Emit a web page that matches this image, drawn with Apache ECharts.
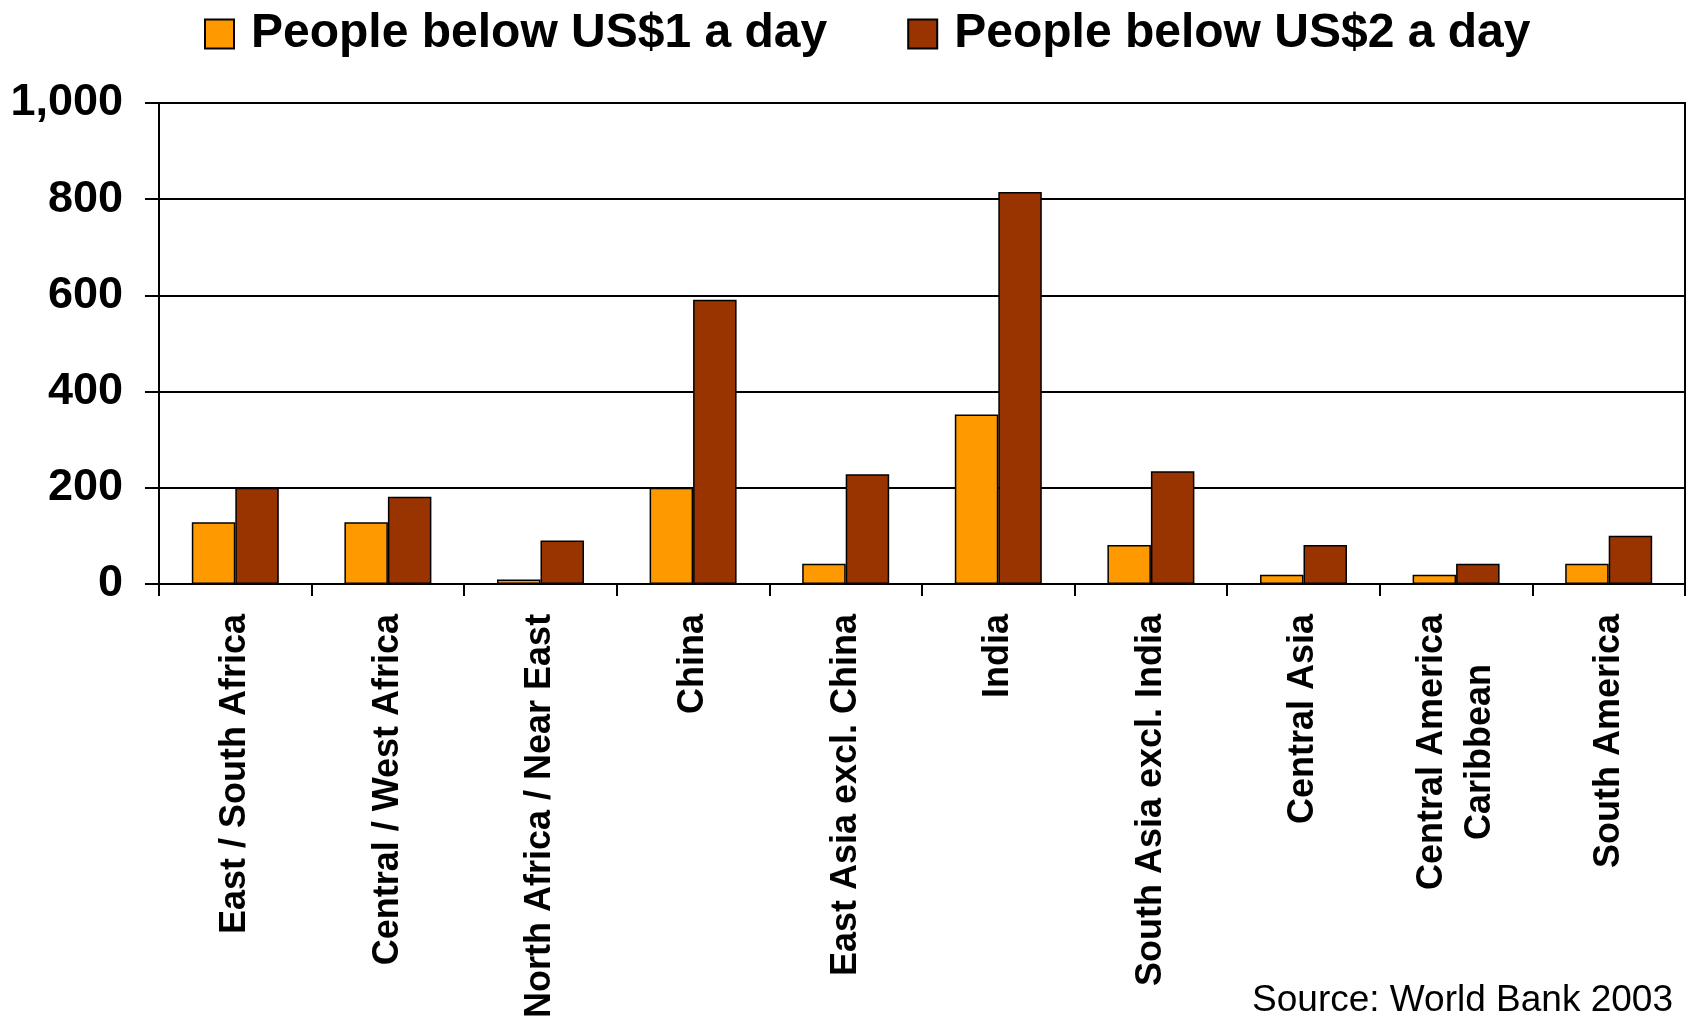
<!DOCTYPE html>
<html>
<head>
<meta charset="utf-8">
<title>People below poverty lines by region</title>
<script src="https://cdn.jsdelivr.net/npm/echarts@6/dist/echarts.min.js"></script>
<style>
  html, body { margin: 0; padding: 0; background: #fff; }
  #chart { width: 1688px; height: 1021px; }
</style>
</head>
<body>
<div id="chart"></div>
<script>
// Regions (x-axis categories)
const regions = [
  'East / South Africa',
  'Central / West Africa',
  'North Africa / Near East',
  'China',
  'East Asia excl. China',
  'India',
  'South Asia excl. India',
  'Central Asia',
  'Central America\nCaribbean',
  'South America'
];

// Millions of people living on less than US$1 / US$2 a day
const belowOneDollar = [128, 128, 9, 200, 42, 352, 81, 19, 19, 42];
const belowTwoDollars = [200, 181, 90, 591, 228, 815, 234, 81, 42, 100];

const seriesNames = ['People below US$1 a day', 'People below US$2 a day'];

// Value axis ticks
const yMin = 0;
const yMax = 1000;
const yStep = 200;

const FONT = '"Liberation Sans", Arial, Helvetica, sans-serif';

const chart = echarts.init(document.getElementById('chart'), null, { renderer: 'canvas' });

chart.setOption({
  backgroundColor: '#ffffff',
  animation: false,
  legend: {
    top: 10,
    left: 204,
    padding: 0,
    itemWidth: 29,
    itemHeight: 29,
    itemGap: 80,
    icon: 'rect',
    data: seriesNames,
    textStyle: {
      fontFamily: FONT,
      fontWeight: 'bold',
      fontSize: 48,
      color: '#000',
      padding: [0, 0, 0, 12]
    }
  },
  grid: {
    left: 159,
    right: 3,
    top: 103,
    bottom: 433,
    show: true,
    backgroundColor: '#ffffff',
    borderColor: '#000',
    borderWidth: 2
  },
  xAxis: {
    type: 'category',
    data: regions,
    boundaryGap: true,
    axisLine: { show: true, lineStyle: { color: '#000', width: 2 } },
    axisTick: { show: true, interval: 0, length: 12, lineStyle: { color: '#000', width: 2 } },
    axisLabel: {
      interval: 0,
      rotate: 90,
      margin: 30,
      color: '#000',
      formatter: function (v) {
        return v.split('\n').map(function (s) { return '{c|' + s + '}'; }).join('\n');
      },
      rich: {
        c: {
          fontFamily: FONT,
          fontWeight: 'bold',
          fontSize: 36,
          lineHeight: 48,
          color: '#000',
          align: 'center'
        }
      }
    },
    splitLine: { show: false }
  },
  yAxis: {
    type: 'value',
    min: yMin,
    max: yMax,
    interval: yStep,
    axisLine: { show: true, lineStyle: { color: '#000', width: 2 } },
    axisTick: { show: true, length: 14, lineStyle: { color: '#000', width: 2 } },
    axisLabel: {
      margin: 36,
      color: '#000',
      fontFamily: FONT,
      fontWeight: 'bold',
      fontSize: 45,
      formatter: function (v) { return v.toLocaleString('en-US'); }
    },
    splitLine: { show: true, lineStyle: { color: '#000', width: 2 } }
  },
  series: [
    {
      name: seriesNames[0],
      type: 'bar',
      data: belowOneDollar,
      barGap: '0%',
      barCategoryGap: '43%',
      itemStyle: { color: '#FF9900', borderColor: '#000', borderWidth: 1.5 }
    },
    {
      name: seriesNames[1],
      type: 'bar',
      data: belowTwoDollars,
      barGap: '0%',
      barCategoryGap: '43%',
      itemStyle: { color: '#993300', borderColor: '#000', borderWidth: 1.5 }
    }
  ],
  graphic: [
    {
      type: 'text',
      right: 15,
      top: 982,
      style: {
        text: 'Source: World Bank 2003',
        fontFamily: FONT,
        fontSize: 37,
        fill: '#000'
      }
    }
  ]
});
</script>
</body>
</html>
